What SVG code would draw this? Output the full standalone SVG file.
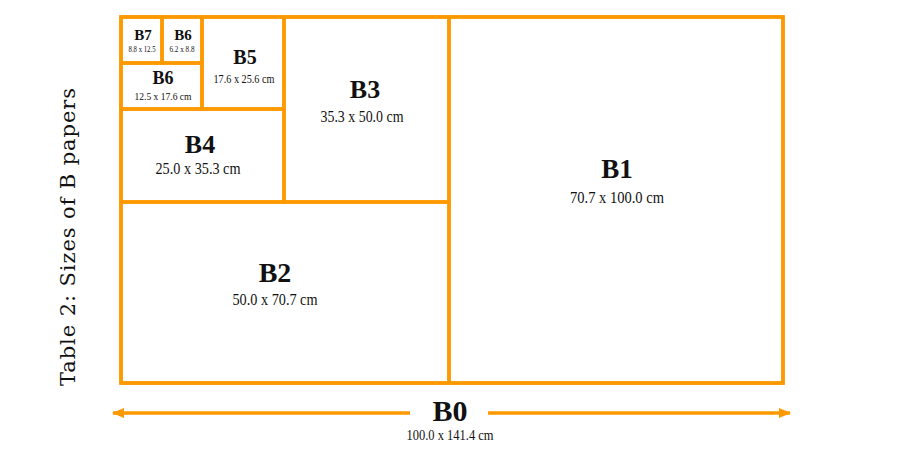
<svg xmlns="http://www.w3.org/2000/svg" width="900" height="450" viewBox="0 0 900 450">
<style>
.box{fill:none;stroke:#FF9900;stroke-width:3.5}
.conn{stroke:#FF9900;stroke-width:3.5;fill:none}
.lbl{font-family:"Liberation Serif",serif;font-weight:bold;fill:#111;text-anchor:middle}
.dim{font-family:"Liberation Serif",serif;fill:#111;text-anchor:middle}
.side{font-family:"DejaVu Serif",serif;fill:#111;font-size:21px}
</style>
<defs>
<marker id="ah" viewBox="0 0 12 10" refX="11" refY="5" markerWidth="12" markerHeight="10" markerUnits="userSpaceOnUse" orient="auto-start-reverse">
<path d="M0,0 L12,5 L0,10 Z" fill="#FF9900"/>
</marker>
</defs>
<rect width="900" height="450" fill="#fff"/>
<text class="side" transform="translate(75,386) rotate(-90)" textLength="298" lengthAdjust="spacing">Table 2: Sizes of B papers</text>
<g id="B0"><rect class="box" x="121" y="17" width="662" height="366"/></g>
<g id="B1"><rect class="box" x="449" y="17" width="334" height="366"/>
<text class="lbl" x="617" y="178" font-size="27">B1</text>
<text class="dim" x="617" y="203" font-size="16" textLength="94" lengthAdjust="spacingAndGlyphs">70.7 x 100.0 cm</text></g>
<g id="B2"><rect class="box" x="121" y="202" width="328" height="181"/>
<text class="lbl" x="275" y="282" font-size="28">B2</text>
<text class="dim" x="275" y="305" font-size="16" textLength="85" lengthAdjust="spacingAndGlyphs">50.0 x 70.7 cm</text></g>
<g id="B3"><rect class="box" x="284" y="17" width="165" height="185"/>
<text class="lbl" x="365" y="98" font-size="26">B3</text>
<text class="dim" x="362" y="122" font-size="16" textLength="83" lengthAdjust="spacingAndGlyphs">35.3 x 50.0 cm</text></g>
<g id="B4"><rect class="box" x="121" y="109" width="163" height="93"/>
<text class="lbl" x="200" y="153" font-size="26">B4</text>
<text class="dim" x="198" y="174" font-size="16" textLength="85" lengthAdjust="spacingAndGlyphs">25.0 x 35.3 cm</text></g>
<g id="B5"><rect class="box" x="202" y="17" width="82" height="92"/>
<text class="lbl" x="245" y="64" font-size="20">B5</text>
<text class="dim" x="244" y="83" font-size="12" textLength="61" lengthAdjust="spacingAndGlyphs">17.6 x 25.6 cm</text></g>
<g id="B6"><rect class="box" x="121" y="63" width="81" height="46"/>
<text class="lbl" x="163" y="84" font-size="18">B6</text>
<text class="dim" x="163" y="100" font-size="11" textLength="57" lengthAdjust="spacingAndGlyphs">12.5 x 17.6 cm</text></g>
<g id="B7"><rect class="box" x="121" y="17" width="41" height="46"/>
<text class="lbl" x="143" y="40" font-size="15">B7</text>
<text class="dim" x="142" y="52" font-size="8.5" textLength="27" lengthAdjust="spacingAndGlyphs">8.8 x 12.5</text></g>
<g id="B6s"><rect class="box" x="162" y="17" width="40" height="46"/>
<text class="lbl" x="183" y="40" font-size="15">B6</text>
<text class="dim" x="182" y="52" font-size="8.5" textLength="25" lengthAdjust="spacingAndGlyphs">6.2 x 8.8</text></g>
<g id="connectors">
<line class="conn" x1="410" y1="413" x2="113" y2="413" marker-end="url(#ah)"/>
<line class="conn" x1="488" y1="413" x2="790" y2="413" marker-end="url(#ah)"/>
</g>
<g id="B0label">
<text class="lbl" x="450" y="421" font-size="30">B0</text>
<text class="dim" x="450" y="440" font-size="15" textLength="87" lengthAdjust="spacingAndGlyphs">100.0 x 141.4 cm</text>
</g>
</svg>
